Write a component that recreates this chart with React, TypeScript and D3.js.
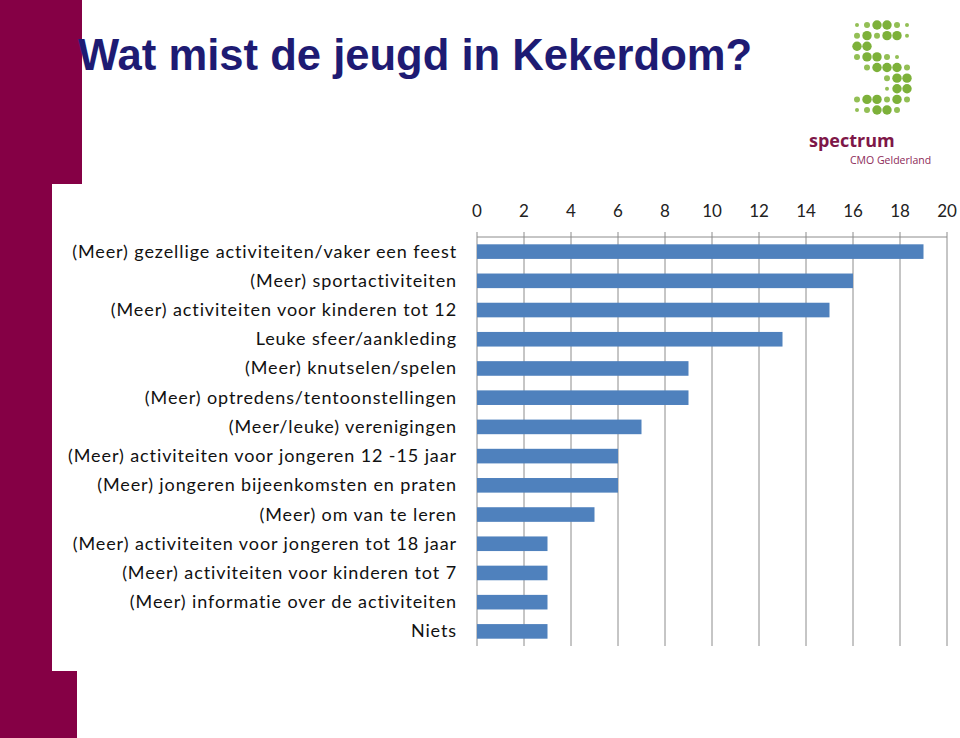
import React from "react";
import * as d3 from "d3";

const categories = [
  "(Meer) gezellige activiteiten/vaker een feest",
  "(Meer) sportactiviteiten",
  "(Meer) activiteiten voor kinderen tot 12",
  "Leuke sfeer/aankleding",
  "(Meer) knutselen/spelen",
  "(Meer) optredens/tentoonstellingen",
  "(Meer/leuke) verenigingen",
  "(Meer) activiteiten voor jongeren 12 -15 jaar",
  "(Meer) jongeren bijeenkomsten en praten",
  "(Meer) om van te leren",
  "(Meer) activiteiten voor jongeren tot 18 jaar",
  "(Meer) activiteiten voor kinderen tot 7",
  "(Meer) informatie over de activiteiten",
  "Niets",
];
const values = [19, 16, 15, 13, 9, 9, 7, 6, 6, 5, 3, 3, 3, 3];
const tickValues = [0, 2, 4, 6, 8, 10, 12, 14, 16, 18, 20];
const title = "Wat mist de jeugd in Kekerdom?";

// logo dot pattern: 0 none, 1 tiny, 2 small, 3 big
const logoRows = [
  [1, 2, 3, 3, 2, 1],
  [2, 3, 2, 3, 3, 1],
  [3, 3, 0, 0, 0, 0],
  [2, 3, 3, 2, 1, 0],
  [0, 2, 3, 3, 3, 2],
  [0, 0, 0, 2, 3, 3],
  [0, 0, 0, 1, 3, 3],
  [2, 3, 3, 2, 3, 2],
  [1, 2, 3, 3, 2, 0],
];

const W = 960;
const H = 738;
const M = { left: 477, right: 947, top: 237, bottom: 646 };

export default function App() {
  const x = d3.scaleLinear().domain([0, 20]).range([M.left, M.right]);
  const y = d3
    .scaleBand<string>()
    .domain(categories)
    .range([M.top, M.bottom])
    .paddingInner(0.5)
    .paddingOuter(0.25);

  const maroon = "#850045";
  const lx = d3.scaleLinear().domain([0, 5]).range([857, 907]);
  const ly = d3.scaleLinear().domain([0, 8]).range([25, 110]);
  const rad = [0, 2, 3, 4.7];

  return (
    <svg
      width={W}
      height={H}
      style={{ position: "absolute", left: 0, top: 0, background: "#fff" }}
    >
      <rect x={0} y={0} width={W} height={H} fill="#fff" />
      {/* maroon side band */}
      <path d={`M0,0 H82 V184 H52 V671 H77 V738 H0 Z`} fill={maroon} />
      {/* title */}
      <text
        x={78}
        y={70}
        fontFamily="'Liberation Sans', Arial, sans-serif"
        fontWeight="bold"
        fontSize={43.6}
        fill="#1E1B73"
      >
        {title}
      </text>
      {/* logo */}
      <g>
        {logoRows.map((row, r) =>
          row.map((s, c) =>
            s > 0 ? (
              <circle
                key={`${r}-${c}`}
                cx={lx(c)}
                cy={ly(r)}
                r={rad[s]}
                fill={s === 3 ? "#7DB13A" : "#93BF55"}
              />
            ) : null
          )
        )}
        <text
          x={809}
          y={147}
          fontFamily="'Open Sans', sans-serif"
          fontWeight="bold"
          fontSize={18}
          fill="#7E1748"
        >
          spectrum
        </text>
        <text
          x={850}
          y={164}
          fontFamily="'Open Sans', sans-serif"
          fontSize={10.5}
          fill="#8C2A58"
        >
          CMO Gelderland
        </text>
      </g>
      {/* grid lines */}
      {tickValues.map((t) => (
        <line
          key={`g${t}`}
          x1={x(t)}
          x2={x(t)}
          y1={M.top - 5}
          y2={M.bottom}
          stroke="#8C8C8C"
          strokeWidth={1}
        />
      ))}
      <line
        x1={M.left}
        x2={M.right}
        y1={M.top}
        y2={M.top}
        stroke="#8C8C8C"
        strokeWidth={1}
      />
      {/* tick labels */}
      {tickValues.map((t) => (
        <text
          key={`t${t}`}
          x={x(t)}
          y={217}
          textAnchor="middle"
          fontFamily="Lato, 'Open Sans', sans-serif"
          fontSize={17}
          fill="#222"
        >
          {t}
        </text>
      ))}
      {/* bars */}
      {categories.map((c, i) => (
        <rect
          key={`b${i}`}
          x={x(0)}
          y={y(c)!}
          width={x(values[i]) - x(0)}
          height={y.bandwidth()}
          fill="#4F81BD"
        />
      ))}
      {/* category labels */}
      {categories.map((c, i) => (
        <text
          key={`l${i}`}
          x={457}
          y={y(c)! + y.bandwidth() / 2 + 6}
          textAnchor="end"
          fontFamily="Lato, 'Open Sans', sans-serif"
          fontSize={18}
          letterSpacing={0.9}
          fill="#111"
        >
          {c}
        </text>
      ))}
    </svg>
  );
}
